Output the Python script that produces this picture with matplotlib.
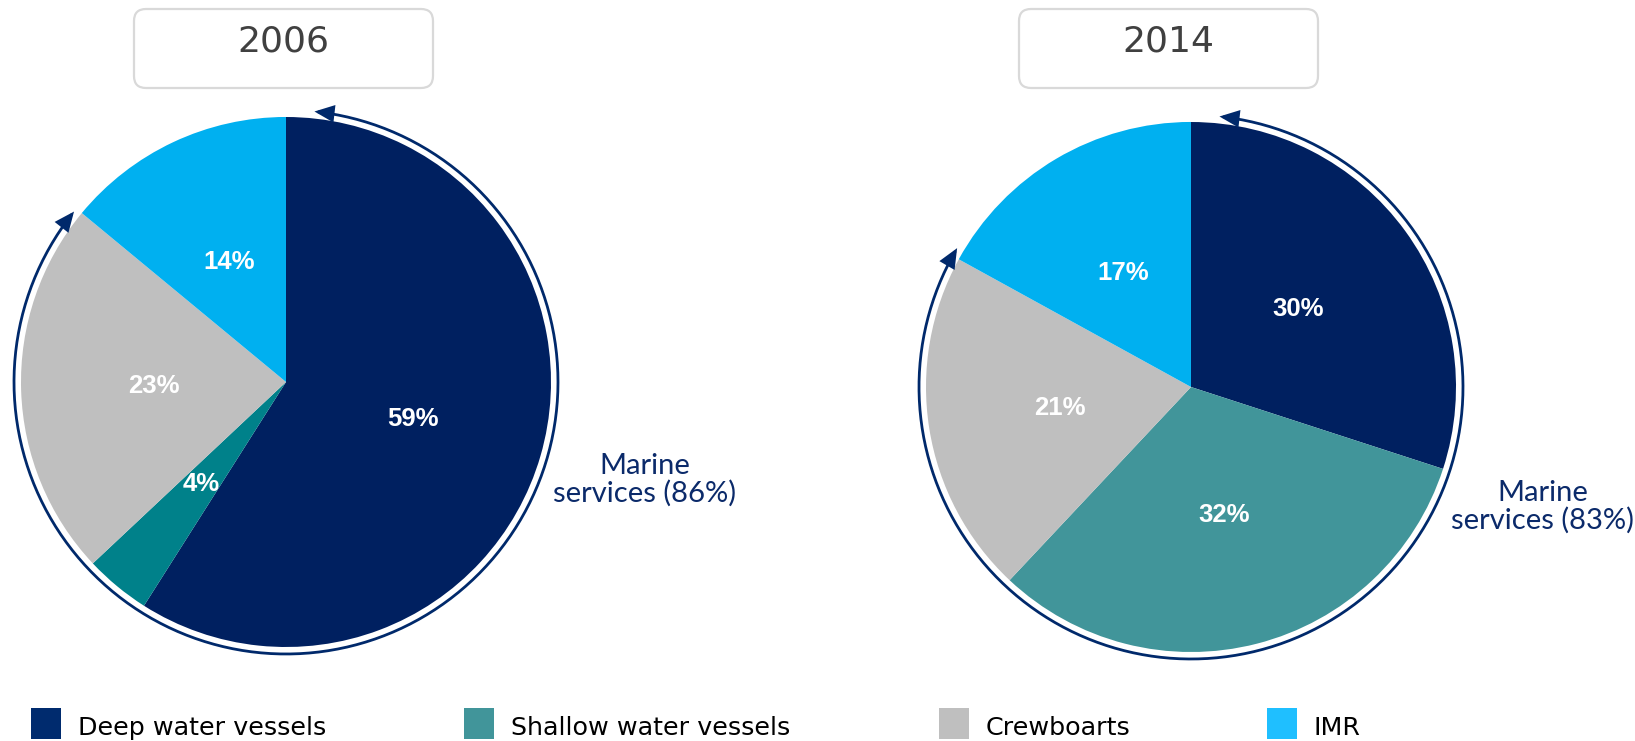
import numpy as np
import matplotlib
matplotlib.use("Agg")
import matplotlib.pyplot as plt
from matplotlib.patches import FancyArrowPatch, FancyBboxPatch, Rectangle
from matplotlib.path import Path

# ---- data -------------------------------------------------------------
categories = ["Deep water vessels", "Shallow water vessels", "Crewboarts", "IMR"]
years = ["2006", "2014"]
shares_2006 = [59, 4, 23, 14]
shares_2014 = [30, 32, 21, 17]
marine_label = "Marine\nservices ({}%)"

# ---- style ------------------------------------------------------------
navy = "#002060"
teal_2006 = "#00818a"
teal_2014 = "#41959a"
grey = "#bfbfbf"
imr_blue = "#00b0f0"
arc_col = "#00296b"
legend_cols = ["#002b6e", "#41959a", "#bfbfbf", "#1fbfff"]

W, H = 1635, 741
fig = plt.figure(figsize=(W / 100, H / 100), dpi=100)
ax = fig.add_axes([0, 0, 1, 1])

R = 265
panels = [
    dict(year=years[0], vals=shares_2006, centre=(286, H - 382),
         cols=[navy, teal_2006, grey, imr_blue], explode=0.03,
         box=(134, 9, 299, 79), text_xy=(645, H - 502), arc_end=0.8),
    dict(year=years[1], vals=shares_2014, centre=(1191, H - 387),
         cols=[navy, teal_2014, grey, imr_blue], explode=0.048,
         box=(1019, 9, 299, 79), text_xy=(1543, H - 529), arc_end=-1.9),
]

for p in panels:
    vals = p["vals"]
    cx, cy = p["centre"]
    ax.pie(vals, colors=p["cols"], startangle=90, counterclock=False,
           center=(cx, cy), radius=R, frame=True,
           explode=[0, 0, 0, p["explode"]],
           autopct=lambda v: f"{v:.0f}%", pctdistance=0.5,
           wedgeprops=dict(linewidth=0),
           textprops=dict(color="white", fontsize=18.5, fontweight="bold",
                          family="Liberation Sans"))

    # bracket arc around the marine-services share
    marine = sum(vals[:3])
    imr_angle = 360 * vals[3] / sum(vals)
    a_top = 90 - 6
    a_end = 90 + imr_angle + p["arc_end"] - 360
    theta = np.radians(np.linspace(a_end, a_top, 300))
    ra = R + 7
    verts = np.column_stack([cx + ra * np.cos(theta), cy + ra * np.sin(theta)])
    arc = FancyArrowPatch(path=Path(verts),
                          arrowstyle="<|-|>,head_length=0.55,head_width=0.24",
                          mutation_scale=20, lw=2.0, color=arc_col,
                          joinstyle="miter", capstyle="butt")
    ax.add_patch(arc)

    # the last line of the label sits on the given baseline
    tx, ty = p["text_xy"]
    ax.text(tx, ty, marine_label.format(marine), ha="center", va="baseline",
            fontsize=21, color="#0b2a6a", family="Lato", linespacing=1.05)

    # year header box
    bx, by, bw, bh = p["box"]
    ax.add_patch(FancyBboxPatch((bx, H - by - bh), bw, bh,
                                boxstyle="round,pad=0,rounding_size=12",
                                fc="white", ec="#d9d9d9", lw=1.6))
    ax.text(bx + bw / 2, H - 42, p["year"], ha="center", va="center",
            fontsize=26, color="#404040", family="DejaVu Sans")

# ---- legend -----------------------------------------------------------
leg_x = [31, 464, 939, 1267]
for x, lab, col in zip(leg_x, categories, legend_cols):
    ax.add_patch(Rectangle((x, H - 739), 30, 31, fc=col, ec="none"))
    ax.text(x + 47, H - 735, lab, ha="left", va="baseline",
            fontsize=18.3, color="black", family="DejaVu Sans")

ax.set_xlim(0, W)
ax.set_ylim(0, H)
ax.set_aspect("equal")
ax.axis("off")
fig.savefig("out.png", dpi=100, facecolor="white")
